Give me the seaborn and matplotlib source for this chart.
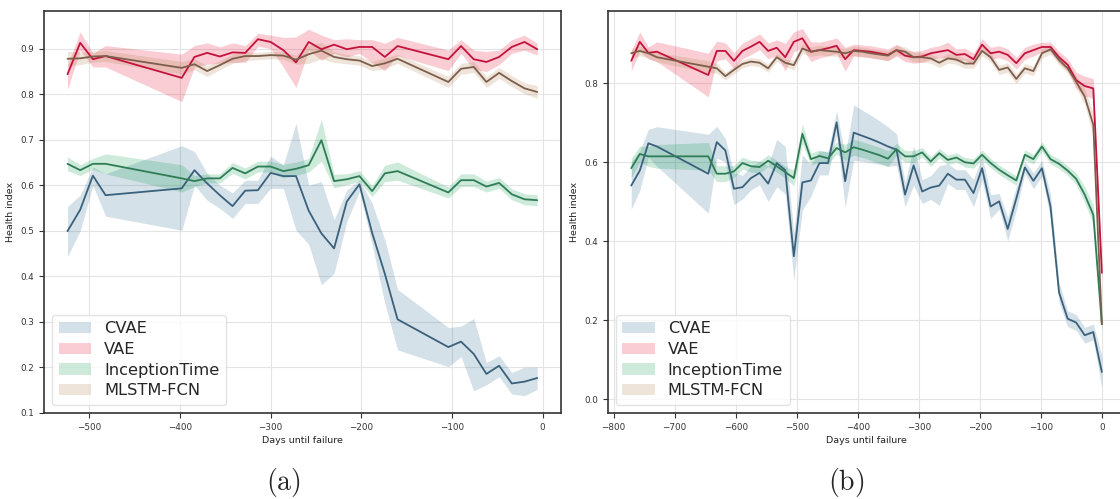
import matplotlib
matplotlib.use("Agg")
import matplotlib.pyplot as plt
from matplotlib.patches import Patch
import numpy as np
import pandas as pd
import seaborn as sns

# ---------------------------------------------------------------- data
MODELS = ["CVAE", "VAE", "InceptionTime", "MLSTM-FCN"]

# panel (a): one machine, ~524 days of history
days_a = [-524, -510, -496, -482, -398, -384, -370, -356, -342, -328, -314, -300,
          -286, -272, -258, -244, -230, -216, -202, -188, -174, -160, -104, -90,
          -76, -62, -48, -34, -20, -6]
cvae_a = [0.499, 0.546, 0.621, 0.578, 0.593, 0.633, 0.604, 0.578, 0.554, 0.588,
          0.589, 0.627, 0.620, 0.620, 0.544, 0.494, 0.461, 0.564, 0.602, 0.495,
          0.405, 0.305, 0.244, 0.256, 0.229, 0.185, 0.203, 0.164, 0.168, 0.176]
cvae_a_lo = [0.443, 0.500, 0.600, 0.532, 0.501, 0.600, 0.567, 0.549, 0.527, 0.560,
             0.560, 0.593, 0.593, 0.501, 0.470, 0.381, 0.406, 0.520, 0.586, 0.469,
             0.340, 0.238, 0.201, 0.223, 0.148, 0.161, 0.179, 0.141, 0.137, 0.151]
cvae_a_hi = [0.553, 0.578, 0.640, 0.625, 0.687, 0.674, 0.626, 0.600, 0.583, 0.611,
             0.611, 0.664, 0.644, 0.736, 0.600, 0.608, 0.524, 0.589, 0.611, 0.560,
             0.480, 0.371, 0.287, 0.290, 0.307, 0.210, 0.225, 0.188, 0.200, 0.200]
vae_a = [0.844, 0.913, 0.877, 0.884, 0.836, 0.882, 0.891, 0.883, 0.892, 0.891,
         0.921, 0.915, 0.897, 0.870, 0.915, 0.899, 0.909, 0.899, 0.904, 0.904,
         0.882, 0.906, 0.877, 0.906, 0.877, 0.871, 0.882, 0.904, 0.915, 0.899]
vae_a_lo = [0.811, 0.897, 0.860, 0.860, 0.784, 0.860, 0.866, 0.868, 0.870, 0.870,
            0.906, 0.900, 0.860, 0.815, 0.897, 0.875, 0.890, 0.882, 0.890, 0.870,
            0.852, 0.885, 0.852, 0.890, 0.855, 0.850, 0.865, 0.890, 0.897, 0.886]
vae_a_hi = [0.864, 0.937, 0.890, 0.907, 0.888, 0.907, 0.913, 0.904, 0.913, 0.907,
            0.934, 0.930, 0.925, 0.926, 0.943, 0.930, 0.920, 0.922, 0.920, 0.920,
            0.912, 0.925, 0.897, 0.920, 0.897, 0.894, 0.897, 0.920, 0.930, 0.912]
incep_a = [0.647, 0.633, 0.647, 0.647, 0.615, 0.609, 0.615, 0.615, 0.638, 0.626,
           0.641, 0.641, 0.631, 0.636, 0.644, 0.699, 0.609, 0.613, 0.620, 0.587,
           0.626, 0.631, 0.584, 0.611, 0.611, 0.597, 0.605, 0.580, 0.569, 0.567]
incep_a_hw = [0.015, 0.012, 0.012, 0.022, 0.030, 0.012, 0.010, 0.010, 0.012, 0.012,
              0.012, 0.012, 0.015, 0.015, 0.015, 0.046, 0.015, 0.012, 0.012, 0.012,
              0.018, 0.020, 0.012, 0.014, 0.014, 0.012, 0.012, 0.012, 0.012, 0.012]
mlstm_a = [0.878, 0.879, 0.883, 0.884, 0.858, 0.866, 0.851, 0.864, 0.878, 0.884,
           0.884, 0.886, 0.885, 0.876, 0.888, 0.896, 0.882, 0.877, 0.874, 0.862,
           0.868, 0.878, 0.827, 0.856, 0.860, 0.827, 0.847, 0.829, 0.813, 0.805]
mlstm_a_hw = [0.016, 0.014, 0.012, 0.012, 0.014, 0.012, 0.012, 0.010, 0.010, 0.010,
              0.008, 0.008, 0.008, 0.010, 0.020, 0.018, 0.012, 0.010, 0.010, 0.010,
              0.012, 0.010, 0.012, 0.012, 0.012, 0.012, 0.012, 0.012, 0.012, 0.014]

# panel (b): one machine, ~770 days of history
days_b = [-771, -757, -743, -729,
          -645, -631, -617, -603, -589, -575, -561, -547, -533, -519,
          -505, -491, -477, -463, -449, -435, -421, -407, -393, -379,
          -365, -351, -337, -323, -309, -295, -281, -267, -253, -239,
          -225, -211, -197, -183, -169, -155, -141, -127, -113, -99,
          -85, -71, -57, -43, -29, -15, -1]
cvae_b = [0.541, 0.579, 0.648, 0.640,
          0.571, 0.651, 0.630, 0.533, 0.537, 0.560, 0.573, 0.546, 0.598, 0.580,
          0.362, 0.549, 0.554, 0.598, 0.598, 0.701, 0.552, 0.675, 0.667, 0.659,
          0.650, 0.640, 0.632, 0.518, 0.592, 0.526, 0.536, 0.541, 0.571, 0.556,
          0.556, 0.522, 0.585, 0.488, 0.501, 0.431, 0.508, 0.587, 0.553, 0.585,
          0.488, 0.270, 0.204, 0.194, 0.162, 0.170, 0.069]
cvae_b_hw = [0.060, 0.050, 0.035, 0.050,
             0.100, 0.040, 0.030, 0.040, 0.030, 0.030, 0.030, 0.045, 0.060, 0.060,
             0.060, 0.070, 0.040, 0.030, 0.030, 0.030, 0.065, 0.070, 0.065, 0.060,
             0.055, 0.050, 0.040, 0.030, 0.050, 0.030, 0.030, 0.050, 0.025, 0.025,
             0.025, 0.035, 0.030, 0.030, 0.020, 0.030, 0.030, 0.015, 0.020, 0.020,
             0.030, 0.025, 0.020, 0.020, 0.020, 0.020, 0.040]
vae_b = [0.857, 0.905, 0.877, 0.880,
         0.821, 0.882, 0.882, 0.857, 0.882, 0.893, 0.905, 0.882, 0.890, 0.866,
         0.905, 0.914, 0.880, 0.884, 0.889, 0.895, 0.861, 0.884, 0.882, 0.880,
         0.876, 0.872, 0.884, 0.870, 0.866, 0.868, 0.876, 0.880, 0.884, 0.872,
         0.874, 0.861, 0.898, 0.876, 0.880, 0.872, 0.851, 0.876, 0.884, 0.892,
         0.892, 0.866, 0.847, 0.808, 0.793, 0.787, 0.320]
vae_b_hw = [0.025, 0.025, 0.015, 0.025,
            0.055, 0.025, 0.020, 0.020, 0.020, 0.020, 0.020, 0.020, 0.020, 0.035,
            0.025, 0.025, 0.025, 0.020, 0.020, 0.020, 0.030, 0.015, 0.015, 0.015,
            0.015, 0.015, 0.015, 0.015, 0.015, 0.015, 0.015, 0.015, 0.020, 0.015,
            0.015, 0.015, 0.015, 0.015, 0.015, 0.015, 0.015, 0.015, 0.015, 0.012,
            0.012, 0.015, 0.015, 0.020, 0.025, 0.025, 0.020]
incep_b = [0.585, 0.621, 0.615, 0.615,
           0.615, 0.571, 0.571, 0.577, 0.598, 0.590, 0.588, 0.604, 0.590, 0.575,
           0.560, 0.672, 0.608, 0.616, 0.610, 0.636, 0.625, 0.638, 0.632, 0.625,
           0.618, 0.609, 0.633, 0.615, 0.615, 0.625, 0.602, 0.623, 0.606, 0.612,
           0.600, 0.597, 0.619, 0.598, 0.581, 0.567, 0.554, 0.619, 0.608, 0.640,
           0.608, 0.596, 0.579, 0.558, 0.518, 0.467, 0.190]
incep_b_hw = [0.025, 0.020, 0.025, 0.030,
              0.035, 0.020, 0.020, 0.015, 0.015, 0.015, 0.015, 0.015, 0.015, 0.015,
              0.020, 0.025, 0.015, 0.015, 0.015, 0.015, 0.020, 0.020, 0.020, 0.020,
              0.020, 0.020, 0.015, 0.015, 0.015, 0.012, 0.012, 0.012, 0.012, 0.012,
              0.012, 0.012, 0.012, 0.012, 0.012, 0.012, 0.012, 0.012, 0.012, 0.012,
              0.012, 0.012, 0.012, 0.015, 0.020, 0.025, 0.020]
mlstm_b = [0.876, 0.882, 0.876, 0.866,
           0.842, 0.838, 0.818, 0.834, 0.849, 0.855, 0.852, 0.838, 0.866, 0.852,
           0.846, 0.888, 0.880, 0.884, 0.882, 0.880, 0.876, 0.882, 0.880, 0.876,
           0.873, 0.870, 0.884, 0.880, 0.866, 0.866, 0.863, 0.852, 0.863, 0.860,
           0.850, 0.850, 0.882, 0.866, 0.834, 0.840, 0.811, 0.838, 0.831, 0.876,
           0.886, 0.859, 0.838, 0.804, 0.766, 0.695, 0.190]
mlstm_b_hw = [0.012, 0.012, 0.012, 0.012,
              0.015, 0.012, 0.010, 0.010, 0.010, 0.010, 0.010, 0.010, 0.010, 0.010,
              0.012, 0.012, 0.012, 0.012, 0.012, 0.012, 0.012, 0.012, 0.012, 0.012,
              0.012, 0.012, 0.012, 0.012, 0.012, 0.012, 0.012, 0.012, 0.012, 0.012,
              0.012, 0.012, 0.012, 0.012, 0.012, 0.012, 0.012, 0.012, 0.012, 0.012,
              0.012, 0.012, 0.012, 0.015, 0.020, 0.030, 0.020]

# ---------------------------------------------------------------- style
LINE_COLORS = {"CVAE": "#3a617c", "VAE": "#c4123d",
               "InceptionTime": "#2e7d57", "MLSTM-FCN": "#7d5e4c"}
BAND_COLORS = {"CVAE": "#2d698c", "VAE": "#e10523",
               "InceptionTime": "#05964b", "MLSTM-FCN": "#af7846"}
BAND_ALPHA = 0.2

sns.set_theme(style="whitegrid", rc={
    "axes.edgecolor": "#333333",
    "axes.linewidth": 1.2,
    "grid.color": "#e4e4e4",
    "grid.linewidth": 0.8,
    "xtick.bottom": True,
    "ytick.left": True,
    "xtick.major.size": 3.5,
    "ytick.major.size": 3.5,
    "xtick.major.width": 0.8,
    "ytick.major.width": 0.8,
    "xtick.color": "#333333",
    "ytick.color": "#333333",
    "xtick.labelsize": 6.3,
    "ytick.labelsize": 6.3,
    "axes.labelsize": 6.8,
    "axes.labelcolor": "#222222",
})
plt.rcParams["font.family"] = ["DejaVu Sans"]
plt.rcParams["mathtext.fontset"] = "cm"


def panel(ax, days, means, bands):
    """Mean health index per model with its confidence band."""
    frames = []
    for m in MODELS:
        frames.append(pd.DataFrame({"day": days, "health": means[m], "model": m}))
    df = pd.concat(frames, ignore_index=True)
    for m in MODELS:
        lo, hi = bands[m]
        ax.fill_between(days, lo, hi, color=BAND_COLORS[m], alpha=BAND_ALPHA,
                        linewidth=0, zorder=1)
    sns.lineplot(data=df, x="day", y="health", hue="model", hue_order=MODELS,
                 palette=LINE_COLORS, errorbar=None, legend=False,
                 linewidth=1.3, ax=ax, zorder=3)
    ax.set_xlabel("Days until failure", labelpad=3)
    ax.set_ylabel("Health index", labelpad=4)
    handles = [Patch(facecolor=BAND_COLORS[m], alpha=BAND_ALPHA, linewidth=0, label=m)
               for m in MODELS]
    ax.legend(handles=handles, loc="lower left", fontsize=11.7, frameon=True,
              framealpha=0.8, edgecolor="#dddddd", labelspacing=0.35,
              borderpad=0.4)
    for s in ax.spines.values():
        s.set_visible(True)


def sym(mean, hw):
    mean = np.asarray(mean)
    hw = np.asarray(hw)
    return mean - hw, mean + hw


fig = plt.figure(figsize=(11.2, 4.99), dpi=100)
ax_a = fig.add_axes([0.0393, 0.1723, 0.4613, 0.8056])
ax_b = fig.add_axes([0.5426, 0.1723, 0.4622, 0.8056])

panel(ax_a, days_a,
      {"CVAE": cvae_a, "VAE": vae_a, "InceptionTime": incep_a, "MLSTM-FCN": mlstm_a},
      {"CVAE": (cvae_a_lo, cvae_a_hi), "VAE": (vae_a_lo, vae_a_hi),
       "InceptionTime": sym(incep_a, incep_a_hw), "MLSTM-FCN": sym(mlstm_a, mlstm_a_hw)})
ax_a.set_xlim(-549.9, 19.9)
ax_a.set_ylim(0.099, 0.983)
ax_a.set_xticks([-500, -400, -300, -200, -100, 0])
ax_a.set_yticks([0.1, 0.2, 0.3, 0.4, 0.5, 0.6, 0.7, 0.8, 0.9])

panel(ax_b, days_b,
      {"CVAE": cvae_b, "VAE": vae_b, "InceptionTime": incep_b, "MLSTM-FCN": mlstm_b},
      {"CVAE": sym(cvae_b, cvae_b_hw), "VAE": sym(vae_b, vae_b_hw),
       "InceptionTime": sym(incep_b, incep_b_hw), "MLSTM-FCN": sym(mlstm_b, mlstm_b_hw)})
ax_b.set_xlim(-809.5, 37.5)
ax_b.set_ylim(-0.035, 0.983)
ax_b.set_xticks([-800, -700, -600, -500, -400, -300, -200, -100, 0])
ax_b.set_yticks([0.0, 0.2, 0.4, 0.6, 0.8])

# sub-figure captions
fig.text(283 / 1120, 0.034, r"$\mathrm{(a)}$", ha="center", va="center", fontsize=20)
fig.text(846 / 1120, 0.034, r"$\mathrm{(b)}$", ha="center", va="center", fontsize=20)

fig.savefig("out.png", dpi=100)
